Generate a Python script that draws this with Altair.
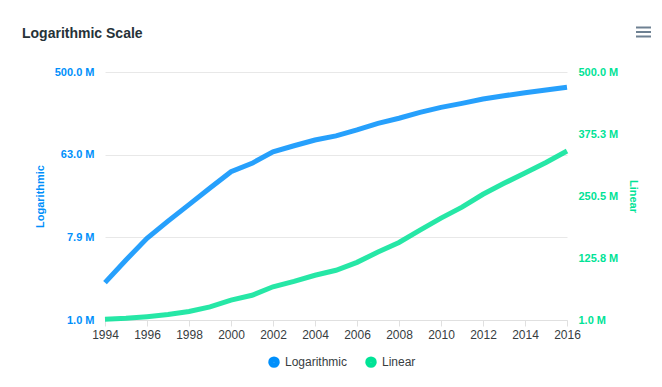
import altair as alt
import pandas as pd

# ---- data (values in millions) ----
years = list(range(1994, 2017))
users_m = [2.55, 4.5, 7.74, 11.9, 18.0, 27.3, 41.1, 50.7, 67.8, 78.8, 91.0, 101.0,
           117.0, 138.0, 157.0, 182.0, 206.0, 228.0, 254.0, 276.0, 297.0, 318.0, 341.0]
series_names = ["Logarithmic", "Linear"]
series_colors = ["#008FFB", "#00E396"]
x_ticks = list(range(1994, 2017, 2))
log_ticks = [500 ** (k / 3) for k in range(4)]
lin_ticks = [1 + k * (500 - 1) / 4 for k in range(5)]
chart_title = "Logarithmic Scale"

rows = []
for s in series_names:
    for yr, v in zip(years, users_m):
        rows.append({"year": yr, "value": v, "series": s})
df = pd.DataFrame(rows)

FONT = "Liberation Sans"

x_enc = alt.X(
    "year:Q",
    title=None,
    scale=alt.Scale(domain=[1994, 2016], nice=False, zero=False),
    axis=alt.Axis(values=x_ticks, format="d", labelFontSize=12, labelColor="#373d3f",
                  labelFont=FONT, domainColor="#e0e0e0", tickColor="#e0e0e0",
                  tickSize=6, labelPadding=3, grid=False, labelFlush=False),
)

color_enc = alt.Color(
    "series:N",
    scale=alt.Scale(domain=series_names, range=series_colors),
    legend=alt.Legend(
        title=None, orient="none", direction="horizontal", legendX=163, legendY=284,
        symbolType="circle", symbolSize=30, symbolStrokeWidth=6, symbolOpacity=1,
        labelFontSize=12, labelColor="#373d3f", labelFont=FONT, labelOffset=5,
        columnPadding=8,
    ),
)

base = alt.Chart(df)

log_line = base.transform_filter(alt.datum.series == "Logarithmic").mark_line(
    strokeWidth=5, opacity=0.85
).encode(
    x=x_enc,
    y=alt.Y(
        "value:Q",
        title="Logarithmic",
        scale=alt.Scale(type="log", domain=[1, 500], nice=False),
        axis=alt.Axis(orient="left", values=log_ticks,
                      labelExpr="format(datum.value, '.1f') + ' M'",
                      labelFontSize=11, labelFontWeight="bold", labelColor="#008FFB",
                      labelFont=FONT, labelPadding=11, domain=False, ticks=False,
                      grid=True, gridColor="#e8e8e8", titleColor="#008FFB",
                      titleFontSize=11, titleFontWeight="bold", titleFont=FONT,
                      titlePadding=9),
    ),
    color=color_enc,
)

lin_line = base.transform_filter(alt.datum.series == "Linear").mark_line(
    strokeWidth=5, opacity=0.85
).encode(
    x=x_enc,
    y=alt.Y(
        "value:Q",
        title="Linear",
        scale=alt.Scale(type="linear", domain=[1, 500], nice=False, zero=False),
        axis=alt.Axis(orient="right", values=lin_ticks,
                      labelExpr="format(datum.value, '.1f') + ' M'",
                      labelFontSize=11, labelFontWeight="bold", labelColor="#00E396",
                      labelFont=FONT, labelPadding=11, domain=False, ticks=False,
                      grid=False, titleColor="#00E396", titleFontSize=11,
                      titleFontWeight="bold", titleFont=FONT, titlePadding=10),
    ),
    color=color_enc,
)

menu = alt.layer(*[
    alt.Chart(alt.Data(values=[{}])).mark_rule(color="#6E8192", strokeWidth=2).encode(
        x=alt.value(531), x2=alt.value(546), y=alt.value(yy)
    )
    for yy in [-44.5, -40, -35.5]
])

title_text = alt.Chart(alt.Data(values=[{}])).mark_text(
    text=chart_title, align="left", baseline="middle", fontSize=14,
    fontWeight="bold", color="#263238", font=FONT
).encode(x=alt.value(-83), y=alt.value(-38))

chart = alt.layer(log_line, lin_line, menu, title_text).resolve_scale(
    y="independent"
).properties(
    width=462,
    height=248,
    autosize=alt.AutoSizeParams(type="none"),
    padding={"left": 97, "top": 64, "right": 87, "bottom": 59},
).configure_view(stroke=None)

chart.save("out.html", embed_options={"renderer": "svg", "actions": False})
